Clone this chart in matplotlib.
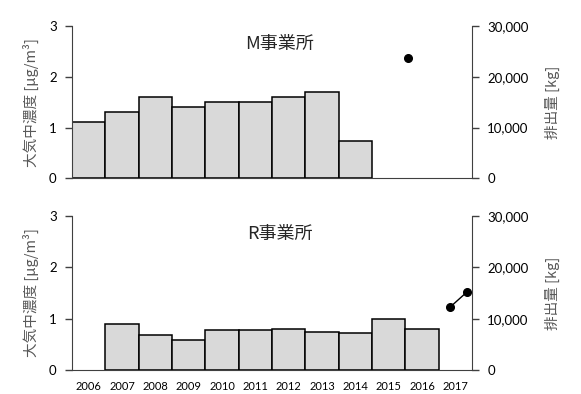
import matplotlib.pyplot as plt
from matplotlib.ticker import FuncFormatter

years = [2006, 2007, 2008, 2009, 2010, 2011, 2012, 2013, 2014, 2015, 2016, 2017]
year_labels = [str(y) for y in years]

# 大気中濃度 (annual mean, ug/m3); None = no measurement
conc_m = [1.1, 1.3, 1.6, 1.4, 1.5, 1.5, 1.6, 1.7, 0.73, None, None, None]
conc_r = [None, 0.9, 0.69, 0.58, 0.79, 0.79, 0.81, 0.74, 0.72, 1.0, 0.81, None]

# 排出量 (kg), plotted on the secondary axis
emis_m_x = [2015.57]
emis_m = [23700]
emis_r_x = [2016.85, 2017.35]
emis_r = [12300, 15200]

CJK = ['Noto Sans CJK JP', 'DejaVu Sans']
NUM = ['Lato', 'DejaVu Sans']
LABEL_COLOR = '#595959'
SPINE_COLOR = '#404040'


def draw_panel(ax, conc, ex, ey, title, show_years):
    xs = [y for y, v in zip(years, conc) if v is not None]
    hs = [v for v in conc if v is not None]
    ax.bar(xs, hs, width=1.0, color='#d9d9d9', edgecolor='black', linewidth=1.1, zorder=2)

    ax.set_xlim(2005.5, 2017.5)
    ax.set_ylim(0, 3)
    ax.set_yticks([0, 1, 2, 3])
    for side in ['top', 'right']:
        ax.spines[side].set_visible(False)
    ax.spines['left'].set_color(SPINE_COLOR)
    ax.spines['bottom'].set_color(SPINE_COLOR)
    ax.tick_params(axis='y', direction='out', length=5, width=1, color=SPINE_COLOR, pad=6)
    for lab in ax.get_yticklabels():
        lab.set_family(NUM)
        lab.set_fontsize(9.5)
    if show_years:
        ax.set_xticks(years)
        ax.set_xticklabels(year_labels, family=NUM, fontsize=8)
        ax.tick_params(axis='x', length=0, pad=8)
    else:
        ax.set_xticks([])
    ax.set_ylabel('大気中濃度 [μg/m³]', family=CJK, fontsize=10.5, color=LABEL_COLOR, labelpad=7)
    ax.text(0.52, 0.88, title, transform=ax.transAxes, ha='center', va='center',
            family=CJK, fontsize=13, color='#262626')

    ax2 = ax.twinx()
    ax2.plot(ex, ey, color='black', linewidth=1, marker='o', markersize=5.5, zorder=3)
    ax2.set_ylim(0, 30000)
    ax2.set_yticks([0, 10000, 20000, 30000])
    ax2.yaxis.set_major_formatter(FuncFormatter(lambda v, p: f'{int(v):,}'))
    for side in ['top', 'left', 'bottom']:
        ax2.spines[side].set_visible(False)
    ax2.spines['right'].set_color(SPINE_COLOR)
    ax2.tick_params(axis='y', direction='out', length=5, width=1, color=SPINE_COLOR, pad=6)
    for lab in ax2.get_yticklabels():
        lab.set_family(NUM)
        lab.set_fontsize(9.5)
    ax2.set_ylabel('排出量 [kg]', family=CJK, fontsize=10.5, color=LABEL_COLOR, labelpad=12)


fig = plt.figure(figsize=(5.81, 3.94), dpi=100)
ax_top = fig.add_axes([0.1239, 0.5475, 0.6885, 0.3866])
ax_bot = fig.add_axes([0.1239, 0.0602, 0.6885, 0.3924])

draw_panel(ax_top, conc_m, emis_m_x, emis_m, 'M事業所', False)
draw_panel(ax_bot, conc_r, emis_r_x, emis_r, 'R事業所', True)

fig.savefig('out.png', dpi=100)
